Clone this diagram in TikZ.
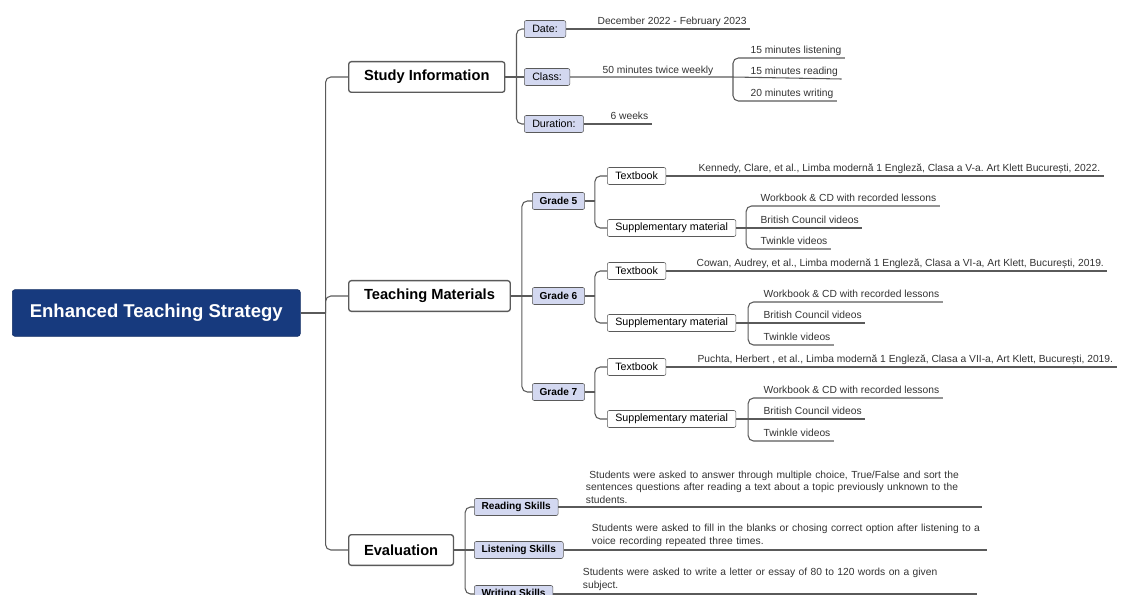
\documentclass[tikz,border=0pt]{standalone}
\usepackage{fontspec}
\setmainfont{Liberation Sans}
\usetikzlibrary{positioning}
\definecolor{blu}{HTML}{173A7E}
\definecolor{lilla}{HTML}{D3D8F0}
\definecolor{grigio}{HTML}{5A5A5A}
\definecolor{testogr}{HTML}{333333}
\frenchspacing

\begin{document}
\begin{tikzpicture}[x = 0.75pt, y = -0.75pt,
    radice/.style = {fill = blu, draw = blu!80!black, rounded corners = 2pt, text = white, font = \fontsize{13.9}{16}\selectfont\bfseries, minimum width = 216pt, minimum height = 35pt, anchor = west},
    ramo/.style = {draw = grigio, line width = 1pt, fill = white, rounded corners = 2pt, font = \fontsize{11}{13}\selectfont\bfseries, minimum height = 23pt, inner xsep = 11.5pt, anchor = west},
    voce/.style = {draw = grigio, fill = lilla, rounded corners = 1.5pt, font = \fontsize{8}{9.5}\selectfont, minimum height = 12.75pt, inner xsep = 6pt, inner ysep = 0pt, anchor = west},
    voceb/.style = {voce, font = \fontsize{7.6}{9.5}\selectfont\bfseries, inner xsep = 5.5pt},
    libro/.style = {voce, fill = white},
    foglia/.style = {font = \fontsize{7.7}{9}\selectfont, text = testogr, inner xsep = 2.5pt, inner ysep = 1pt, text depth = 2pt, anchor = south west},
    testo/.style = {font = \fontsize{7.7}{9.4}\selectfont, text = testogr, align = left, inner xsep = 2pt, inner ysep = 2.5pt, anchor = south west},
    lin/.style = {draw = grigio, line width = 0.8pt, rounded corners = 4pt}]
    \useasboundingbox (0,0) rectangle (1124,595);
    % Radice
    \node[radice] (ets) at (12,313) {Enhanced Teaching Strategy};
    % Rami principali
    \node[ramo] (si) at (348,77) {Study Information};
    \node[ramo] (tm) at (348,296) {Teaching Materials};
    \node[ramo] (ev) at (348,550) {Evaluation};
    \draw[lin] (ets.east) -- ++(25,0) coordinate (r0);
    \draw[lin] (r0) |- (si.west);
    \draw[lin] (r0) |- (tm.west);
    \draw[lin] (r0) |- (ev.west);
    % Study Information
    \node[voce] (date) at (524,29) {Date:};
    \node[voce] (class) at (524,77) {Class:};
    \node[voce] (dur) at (524,124) {Duration:};
    \draw[lin] (si.east) -- ++(11,0) coordinate (s0);
    \draw[lin] (s0) |- (date.west);
    \draw[lin] (s0) -- (class.west);
    \draw[lin] (s0) |- (dur.west);
    \node[foglia] (dec) at (594,29) {December 2022 - February 2023};
    \draw[lin] (date.east) -- (dec.south east);
    \node[foglia, anchor = south] (tw) at (658,78) {50 minutes twice weekly};
    \node[foglia] (m1) at (747,58) {15 minutes listening};
    \node[foglia] (m2) at (747,79) {15 minutes reading};
    \node[foglia] (m3) at (747,101) {20 minutes writing};
    \draw[lin] (class.east) -- (733,77) coordinate (c0) -- (m2.south east);
    \draw[lin] (c0) |- (m1.south east);
    \draw[lin] (c0) |- (m3.south east);
    \node[foglia] (wk) at (607,124) {6 weeks};
    \draw[lin] (dur.east) -- (wk.south east);
    % Teaching Materials
    \node[voceb] (g5) at (532,201) {Grade 5};
    \node[voceb] (g6) at (532,296) {Grade 6};
    \node[voceb] (g7) at (532,392) {Grade 7};
    \draw[lin] (tm.east) -- ++(11,0) coordinate (t0);
    \draw[lin] (t0) |- (g5.west);
    \draw[lin] (t0) -- (g6.west);
    \draw[lin] (t0) |- (g7.west);
    % Grade 5
    \node[libro] (tb5) at (607,176) {Textbook};
    \node[libro] (sm5) at (607,228) {Supplementary material};
    \draw[lin] (g5.east) -- ++(10,0) coordinate (g5t);
    \draw[lin] (g5t) |- (tb5.west);
    \draw[lin] (g5t) |- (sm5.west);
    \node[foglia] (k5) at (695,176) {Kennedy, Clare, et al., Limba modernă 1 Engleză, Clasa a V-a. Art Klett București, 2022.};
    \draw[lin] (tb5.east) -- (k5.south east);
    \node[foglia] (w5) at (757,206) {Workbook \& CD with recorded lessons};
    \node[foglia] (b5) at (757,228) {British Council videos};
    \node[foglia] (t5) at (757,249) {Twinkle videos};
    \draw[lin] (sm5.east) -- ++(10,0) coordinate (s5) -- (b5.south east);
    \draw[lin] (s5) |- (w5.south east);
    \draw[lin] (s5) |- (t5.south east);
    % Grade 6
    \node[libro] (tb6) at (607,271) {Textbook};
    \node[libro] (sm6) at (607,323) {Supplementary material};
    \draw[lin] (g6.east) -- ++(10,0) coordinate (g6t);
    \draw[lin] (g6t) |- (tb6.west);
    \draw[lin] (g6t) |- (sm6.west);
    \node[foglia] (k6) at (693,271) {Cowan, Audrey, et al., Limba modernă 1 Engleză, Clasa a VI-a, Art Klett, București, 2019.};
    \draw[lin] (tb6.east) -- (k6.south east);
    \node[foglia] (w6) at (760,302) {Workbook \& CD with recorded lessons};
    \node[foglia] (b6) at (760,323) {British Council videos};
    \node[foglia] (t6) at (760,345) {Twinkle videos};
    \draw[lin] (sm6.east) -- ++(12,0) coordinate (s6) -- (b6.south east);
    \draw[lin] (s6) |- (w6.south east);
    \draw[lin] (s6) |- (t6.south east);
    % Grade 7
    \node[libro] (tb7) at (607,367) {Textbook};
    \node[libro] (sm7) at (607,419) {Supplementary material};
    \draw[lin] (g7.east) -- ++(10,0) coordinate (g7t);
    \draw[lin] (g7t) |- (tb7.west);
    \draw[lin] (g7t) |- (sm7.west);
    \node[foglia] (k7) at (694,367) {Puchta, Herbert , et al., Limba modernă 1 Engleză, Clasa a VII-a, Art Klett, București, 2019.};
    \draw[lin] (tb7.east) -- (k7.south east);
    \node[foglia] (w7) at (760,398) {Workbook \& CD with recorded lessons};
    \node[foglia] (b7) at (760,419) {British Council videos};
    \node[foglia] (t7) at (760,441) {Twinkle videos};
    \draw[lin] (sm7.east) -- ++(12,0) coordinate (s7) -- (b7.south east);
    \draw[lin] (s7) |- (w7.south east);
    \draw[lin] (s7) |- (t7.south east);
    % Evaluation
    \node[voceb] (rs) at (474,507) {Reading Skills};
    \node[voceb] (ls) at (474,550) {Listening Skills};
    \node[voceb] (ws) at (474,594) {Writing Skills};
    \draw[lin] (ev.east) -- ++(11,0) coordinate (e0);
    \draw[lin] (e0) |- (rs.west);
    \draw[lin] (e0) -- (ls.west);
    \draw[lin] (e0) |- (ws.west);
    \node[testo, text width = 295pt] (rt) at (583,507) {\ Students were asked to answer through multiple choice, True/False and sort the\\ sentences questions after reading a text about a topic previously unknown to the\\ students.};
    \node[testo, text width = 294pt] (lt) at (589,550) {Students were asked to fill in the blanks or chosing correct option after listening to a\\ voice recording repeated three times.};
    \node[testo, text width = 293pt] (wt) at (580,594) {Students were asked to write a letter or essay of 80 to 120 words on a given\\ subject.};
    \draw[lin] (rs.east) -- (rt.south east);
    \draw[lin] (ls.east) -- (lt.south east);
    \draw[lin] (ws.east) -- (wt.south east);
\end{tikzpicture}
\end{document}
